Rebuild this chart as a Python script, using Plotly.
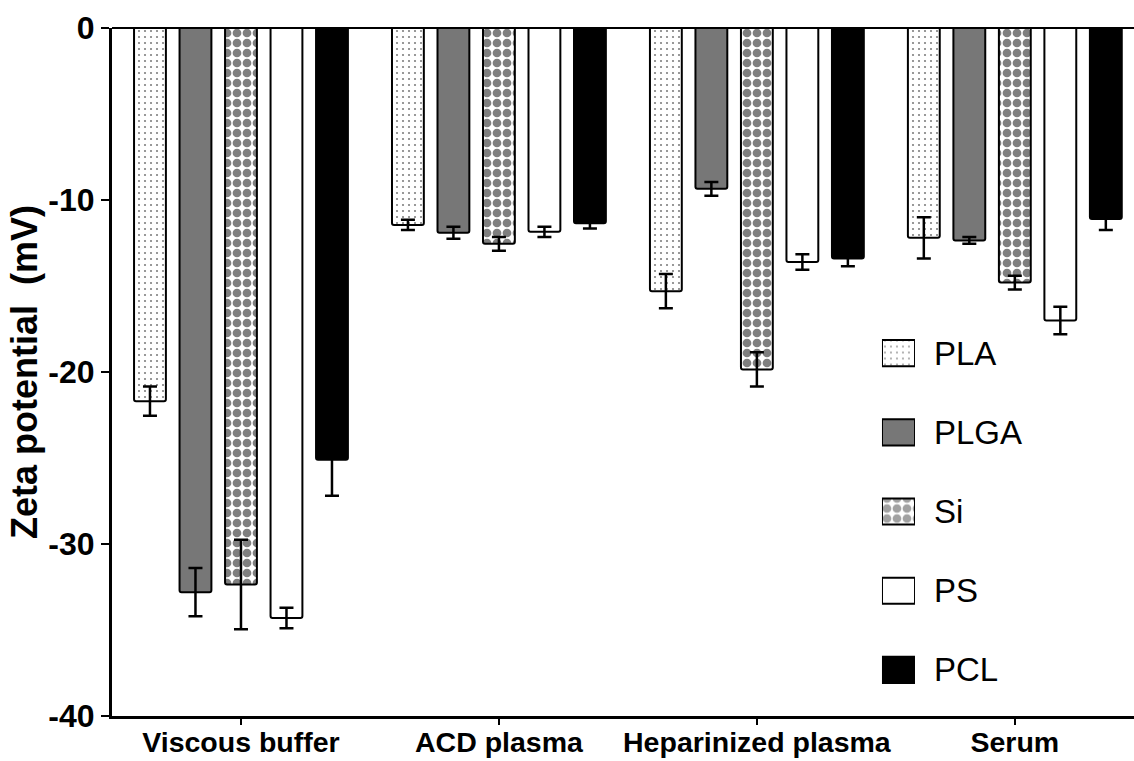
import plotly.graph_objects as go

categories = ["Viscous buffer", "ACD plasma", "Heparinized plasma", "Serum"]
series_names = ["PLA", "PLGA", "Si", "PS", "PCL"]

pla = [-21.7, -11.45, -15.3, -12.2]
pla_err = [0.85, 0.3, 1.0, 1.2]
plga = [-32.8, -11.9, -9.35, -12.35]
plga_err = [1.4, 0.35, 0.4, 0.2]
si = [-32.35, -12.55, -19.85, -14.8]
si_err = [2.6, 0.4, 1.0, 0.4]
ps = [-34.3, -11.85, -13.6, -17.0]
ps_err = [0.6, 0.3, 0.45, 0.8]
pcl = [-25.1, -11.35, -13.4, -11.1]
pcl_err = [2.1, 0.3, 0.45, 0.65]

y_ticks = [0, -10, -20, -30, -40]

values = [pla, plga, si, ps, pcl]
errors = [pla_err, plga_err, si_err, ps_err, pcl_err]

styles = {
    "PLA": dict(color="white", shape=".", size=6, solidity=0.1),
    "PLGA": dict(color="#777777", shape="", size=8, solidity=0.3),
    "Si": dict(color="white", shape=".", size=10, solidity=0.6),
    "PS": dict(color="white", shape="", size=8, solidity=0.3),
    "PCL": dict(color="black", shape="", size=8, solidity=0.3),
}

FONT = "Liberation Sans, Arial, sans-serif"

fig = go.Figure()
for name, vals, errs in zip(series_names, values, errors):
    st = styles[name]
    fig.add_trace(go.Bar(
        x=categories, y=vals, name=name, showlegend=False,
        marker=dict(color=st["color"],
                    pattern=dict(shape=st["shape"], fgcolor="black", bgcolor=st["color"],
                                 size=st["size"], solidity=st["solidity"], fillmode="overlay"),
                    line=dict(color="black", width=2), cornerradius=2),
        error_y=dict(type="data", array=errs, visible=True, color="black",
                     thickness=2.5, width=7),
        hoverinfo="skip",
    ))

# legend drawn as an inset of patterned boxes
fig.add_trace(go.Bar(
    x=[1] * len(series_names), y=series_names, orientation="h",
    xaxis="x2", yaxis="y2", width=0.33, showlegend=False, hoverinfo="skip",
    marker=dict(
        color=[styles[n]["color"] for n in series_names],
        pattern=dict(
            shape=[styles[n]["shape"] for n in series_names],
            fgcolor="black",
            size=[styles[n]["size"] for n in series_names],
            solidity=[styles[n]["solidity"] for n in series_names],
            fillmode="overlay",
        ),
        line=dict(color="black", width=2),
    ),
))

fig.update_layout(
    width=1134, height=761,
    margin=dict(l=112, r=0, t=28, b=45, autoexpand=False),
    paper_bgcolor="white", plot_bgcolor="white",
    barmode="group", bargap=0.118, bargroupgap=0.3,
    font=dict(family=FONT, color="black", size=26),
    xaxis=dict(
        range=[-0.5, 3.462], showgrid=False, zeroline=False,
        showline=True, linecolor="black", linewidth=3,
        ticks="outside", ticklen=6, tickwidth=2, tickcolor="black",
        ticklabelstandoff=-7,
        tickfont=dict(family=FONT, size=28.5, weight="bold"),
        anchor="y", fixedrange=True,
    ),
    yaxis=dict(
        range=[-40, 0], tickvals=y_ticks, ticktext=[str(v) for v in y_ticks],
        showgrid=False, zeroline=True, zerolinecolor="black", zerolinewidth=2,
        showline=True, linecolor="black", linewidth=3,
        ticks="outside", ticklen=8, tickwidth=2, tickcolor="black",
        tickfont=dict(family=FONT, size=32, weight="bold"),
        title=dict(text="Zeta potential  (mV)", font=dict(family=FONT, size=36, weight="bold"), standoff=0),
        anchor="x", fixedrange=True,
    ),
    xaxis2=dict(
        domain=[0.7534, 0.7857], range=[0, 1], anchor="y2",
        showgrid=False, zeroline=False, showline=False, showticklabels=False, ticks="",
        fixedrange=True,
    ),
    yaxis2=dict(
        domain=[0.0094, 0.585], anchor="x2", side="right",
        categoryorder="array", categoryarray=series_names[::-1],
        showgrid=False, zeroline=False, showline=False, ticks="",
        ticklabelstandoff=18,
        tickfont=dict(family=FONT, size=33),
        fixedrange=True,
    ),
)

fig.write_html("out.html")
